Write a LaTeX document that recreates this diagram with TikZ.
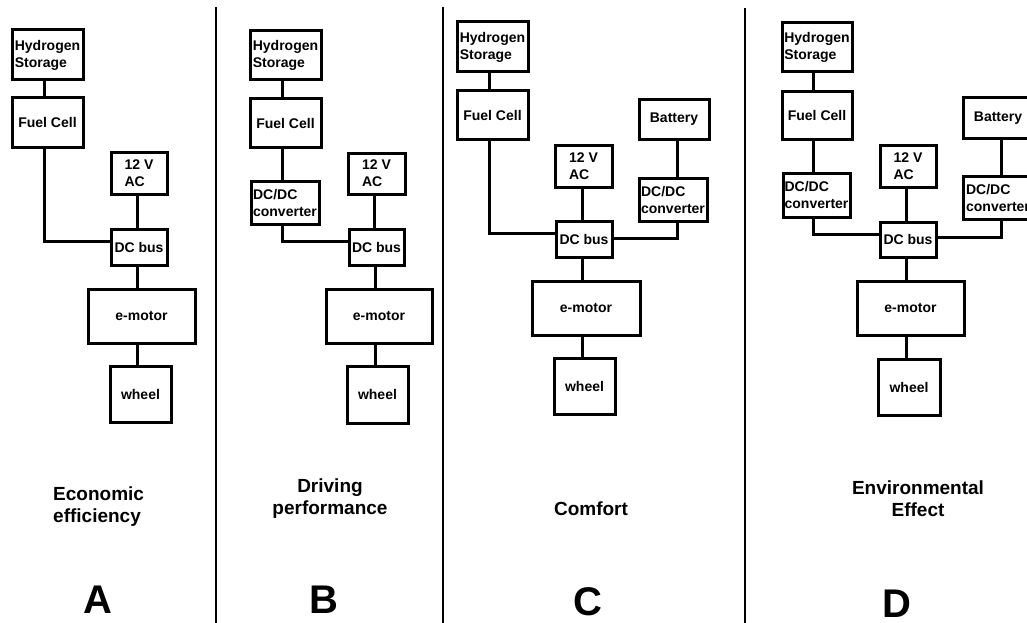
\documentclass[tikz,border=0pt]{standalone}
\usepackage{fontspec}
\setmainfont{Liberation Sans}
\begin{document}
\begin{tikzpicture}[x=1pt,y=-1pt,
  box/.style={draw, line width=3pt, inner sep=0pt, align=left,
    font=\bfseries\fontsize{14}{17}\selectfont},
  wire/.style={line width=3pt},
  divider/.style={line width=2.6pt},
  caption/.style={font=\bfseries\fontsize{19}{22}\selectfont, inner sep=0pt},
  letter/.style={font=\bfseries\fontsize{40}{40}\selectfont, inner sep=0pt}]
\useasboundingbox (0,0) rectangle (1027,623);
% box from its corners: name, x1, y1, x2, y2, text
\newcommand\blk[6]{\node[box, minimum width={#4-#2}, minimum height={#5-#3}]
  (#1) at ({(#2+#4)/2},{(#3+#5)/2}) {#6};}

% panel dividers
\coordinate (d1t) at (216,7);  \coordinate (d1b) at (216,623);
\coordinate (d2t) at (443,7);  \coordinate (d2b) at (443,623);
\coordinate (d3t) at (745,8);  \coordinate (d3b) at (745,623);
\draw[divider] (d1t) -- (d1b);
\draw[divider] (d2t) -- (d2b);
\draw[divider] (d3t) -- (d3b);

% ---------- A: economic efficiency ----------
\blk{aH}{12}{30}{83}{80}{Hydrogen\\Storage}
\blk{aF}{12}{98}{83}{147}{Fuel Cell}
\blk{aV}{111}{152}{167}{194}{12 V\\AC}
\blk{aB}{111}{229}{167}{265}{DC bus}
\blk{aM}{88}{289}{195}{343}{e-motor}
\blk{aW}{110}{366}{171}{422}{wheel}
\draw[wire] (aH.south -| 44,0) -- (aF.north -| 44,0);
\draw[wire] (aF.south -| 44,0) |- (aB.west |- 0,241);
\draw[wire] (aV.south -| 137,0) -- (aB.north -| 137,0);
\draw[wire] (aB.south -| 137,0) -- (aM.north -| 137,0);
\draw[wire] (aM.south -| 137,0) -- (aW.north -| 137,0);
\node[caption, anchor=west, align=left] (aT) at (53,507) {Economic\\efficiency};
\node[letter] (aL) at (98,600) {A};

% ---------- B: driving performance ----------
\blk{bH}{250}{31}{321}{80}{Hydrogen\\Storage}
\blk{bF}{250}{99}{321}{147}{Fuel Cell}
\blk{bC}{251}{181}{319}{224}{DC/DC\\converter}
\blk{bV}{348}{153}{405}{194}{12 V\\AC}
\blk{bB}{349}{229}{404}{265}{DC bus}
\blk{bM}{326}{289}{432}{343}{e-motor}
\blk{bW}{347}{366}{408}{423}{wheel}
\draw[wire] (bH.south -| 282,0) -- (bF.north -| 282,0);
\draw[wire] (bF.south -| 282,0) -- (bC.north -| 282,0);
\draw[wire] (bC.south -| 282,0) |- (bB.west |- 0,241);
\draw[wire] (bV.south -| 374,0) -- (bB.north -| 374,0);
\draw[wire] (bB.south -| 375,0) -- (bM.north -| 375,0);
\draw[wire] (bM.south -| 375,0) -- (bW.north -| 375,0);
\node[caption, align=center] (bT) at (330,499) {Driving\\performance};
\node[letter] (bL) at (324,600) {B};

% ---------- C: comfort ----------
\blk{cH}{457}{22}{528}{72}{Hydrogen\\Storage}
\blk{cF}{457}{91}{528}{139}{Fuel Cell}
\blk{cP}{639}{100}{709}{139}{Battery}
\blk{cV}{555}{145}{612}{187}{12 V\\AC}
\blk{cC}{639}{178}{707}{221}{DC/DC\\converter}
\blk{cB}{556}{221}{612}{257}{DC bus}
\blk{cM}{532}{281}{640}{335}{e-motor}
\blk{cW}{554}{358}{615}{414}{wheel}
\draw[wire] (cH.south -| 489,0) -- (cF.north -| 489,0);
\draw[wire] (cF.south -| 489,0) |- (cB.west |- 0,233);
\draw[wire] (cP.south -| 677,0) -- (cC.north -| 677,0);
\draw[wire] (cC.south -| 677,0) |- (cB.east |- 0,238);
\draw[wire] (cV.south -| 582,0) -- (cB.north -| 582,0);
\draw[wire] (cB.south -| 582,0) -- (cM.north -| 582,0);
\draw[wire] (cM.south -| 582,0) -- (cW.north -| 582,0);
\node[caption] (cT) at (591,509) {Comfort};
\node[letter] (cL) at (588,602) {C};

% ---------- D: environmental effect ----------
\blk{dH}{782}{23}{852}{72}{Hydrogen\\Storage}
\blk{dF}{782}{92}{852}{139}{Fuel Cell}
\blk{dC}{783}{173}{850}{217}{DC/DC\\converter}
\blk{dV}{880}{145}{936}{187}{12 V\\AC}
\blk{dB}{880}{222}{936}{257}{DC bus}
\blk{dP}{963}{98}{1033}{138}{Battery}
\blk{dD}{963}{176}{1033}{219}{DC/DC\\converter}
\blk{dM}{857}{281}{964}{335}{e-motor}
\blk{dW}{878}{359}{940}{415}{wheel}
\draw[wire] (dH.south -| 813,0) -- (dF.north -| 813,0);
\draw[wire] (dF.south -| 813,0) -- (dC.north -| 813,0);
\draw[wire] (dC.south -| 813,0) |- (dB.west |- 0,234);
\draw[wire] (dP.south -| 1001,0) -- (dD.north -| 1001,0);
\draw[wire] (dD.south -| 1001,0) |- (dB.east |- 0,237);
\draw[wire] (dV.south -| 906,0) -- (dB.north -| 906,0);
\draw[wire] (dB.south -| 906,0) -- (dM.north -| 906,0);
\draw[wire] (dM.south -| 906,0) -- (dW.north -| 906,0);
\node[caption, align=center] (dT) at (918,499) {Environmental\\Effect};
\node[letter] (dL) at (897,604) {D};
\end{tikzpicture}
\end{document}
